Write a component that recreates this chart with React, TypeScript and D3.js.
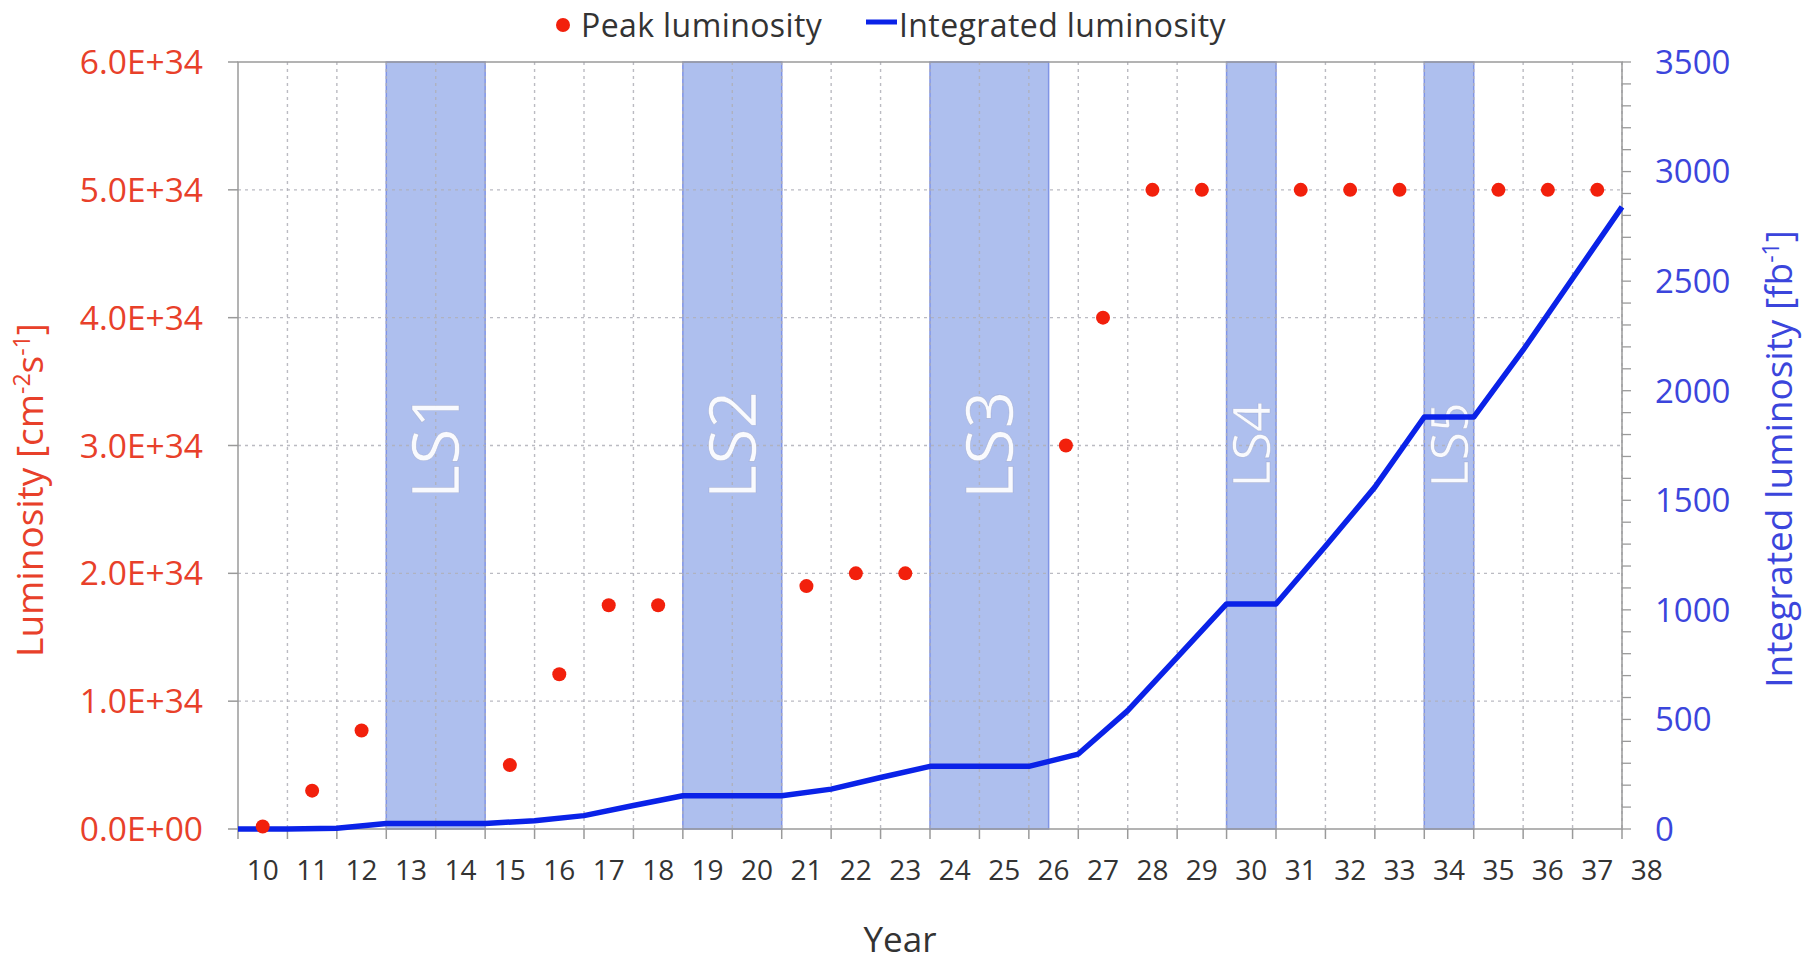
import React from "react";
import * as d3 from "d3";

// ---------- data ----------
const yearLabels = ["10","11","12","13","14","15","16","17","18","19","20","21","22","23","24","25","26","27","28","29","30","31","32","33","34","35","36","37","38"];
const yearLabelPos = [10,11,12,13,14,15,16,17,18,19,20,21,22,23,24,25,26,27,28,29,30,31,32,33,34,35,36,37,38];

const peakYears = [10, 11, 12, 15, 16, 17, 18, 21, 22, 23, 26.25, 27, 28, 29, 31, 32, 33, 35, 36, 37];
const peakValues = [0.02e34, 0.30e34, 0.77e34, 0.5e34, 1.21e34, 1.75e34, 1.75e34, 1.9e34, 2.0e34, 2.0e34, 3.0e34, 4.0e34, 5.0e34, 5.0e34, 5.0e34, 5.0e34, 5.0e34, 5.0e34, 5.0e34, 5.0e34];

const intYearEnds = [9.5,10.5,11.5,12.5,13.5,14.5,15.5,16.5,17.5,18.5,19.5,20.5,21.5,22.5,23.5,24.5,25.5,26.5,27.5,28.5,29.5,30.5,31.5,32.5,33.5,34.5,35.5,36.5,37.5];
const intValues = [0,0,3,25,25,25,38,61,107,152,152,152,182,235,286,286,286,342,540,783,1027,1027,1290,1560,1880,1880,2186,2512,2839];

const lsNames = ["LS1", "LS2", "LS3", "LS4", "LS5"];
const lsStart = [12.5, 18.5, 23.5, 29.5, 33.5];
const lsEnd = [14.5, 20.5, 25.9, 30.5, 34.5];
const lsFont = [66, 66, 66, 52, 52];

const leftTicks = [0, 1e34, 2e34, 3e34, 4e34, 5e34, 6e34];
const leftTickLabels = ["0.0E+00", "1.0E+34", "2.0E+34", "3.0E+34", "4.0E+34", "5.0E+34", "6.0E+34"];
const rightTicks = [0, 500, 1000, 1500, 2000, 2500, 3000, 3500];
const rightTickLabels = ["0", "500", "1000", "1500", "2000", "2500", "3000", "3500"];
const gridBoundaries = [10.5,11.5,12.5,13.5,14.5,15.5,16.5,17.5,18.5,19.5,20.5,21.5,22.5,23.5,24.5,25.5,26.5,27.5,28.5,29.5,30.5,31.5,32.5,33.5,34.5,35.5,36.5,37.5];

// ---------- layout ----------
const W = 1816, H = 966;
const L = 238, R = 1622, T = 62, B = 829;
const FONT = "'Open Sans', 'DejaVu Sans', sans-serif";
const RED = "#e8402a";
const DOT = "#f2200c";
const BLUE = "#0a22e8";
const BLUE_TXT = "#3b45dc";
const DARK = "#333333";

export default function App() {
  const x = d3.scaleLinear().domain([9.5, 37.5]).range([L, R]);
  const yL = d3.scaleLinear().domain([0, 6e34]).range([B, T]);
  const yR = d3.scaleLinear().domain([0, 3500]).range([B, T]);
  const minor = d3.range(0, 3501, 100);
  const line = d3.line<number>().x((_, i) => x(intYearEnds[i])).y((d) => yR(d));

  return (
    <svg width={W} height={H} style={{ position: "absolute", left: 0, top: 0, background: "#fff" }} fontFamily={FONT}>
      <rect x={0} y={0} width={W} height={H} fill="#fff" />
      {/* shutdown bands */}
      {lsNames.map((n, i) => (
        <rect key={n} x={x(lsStart[i])} y={T} width={x(lsEnd[i]) - x(lsStart[i])} height={B - T}
          fill="#aebfee" stroke="#8094e6" strokeWidth={1.5} />
      ))}
      {/* vertical grid */}
      {gridBoundaries.map((g) => (
        <line key={"vg" + g} x1={x(g)} x2={x(g)} y1={T} y2={B} stroke="#b0b0b8" strokeWidth={1.4} strokeDasharray="3,4" opacity={0.85} />
      ))}
      {/* horizontal grid */}
      {leftTicks.slice(1, 6).map((t) => (
        <line key={"hg" + t} x1={L} x2={R} y1={yL(t)} y2={yL(t)} stroke="#b0b0b8" strokeWidth={1.4} strokeDasharray="3,4" opacity={0.85} />
      ))}
      {/* frame */}
      <rect x={L} y={T} width={R - L} height={B - T} fill="none" stroke="#9a9a9a" strokeWidth={1.5} />
      {/* x ticks */}
      {[9.5, ...gridBoundaries].map((g) => (
        <line key={"xt" + g} x1={x(g)} x2={x(g)} y1={B} y2={B + 10} stroke="#9a9a9a" strokeWidth={1.5} />
      ))}
      {/* left ticks */}
      {leftTicks.map((t) => (
        <line key={"lt" + t} x1={L - 10} x2={L} y1={yL(t)} y2={yL(t)} stroke="#9a9a9a" strokeWidth={1.5} />
      ))}
      {/* right ticks */}
      {minor.map((t) => (
        <line key={"rt" + t} x1={R} x2={R + 9} y1={yR(t)} y2={yR(t)} stroke="#9a9a9a" strokeWidth={1.3} />
      ))}
      {/* LS labels */}
      {lsNames.map((n, i) => {
        const cx = (x(lsStart[i]) + x(lsEnd[i])) / 2;
        const cy = 445;
        return (
          <text key={"ls" + n} transform={`translate(${cx},${cy}) rotate(-90)`} textAnchor="middle" dy="0.36em"
            fontSize={lsFont[i]} fill="#ffffff" fillOpacity={0.92} stroke="#9aa4c8" strokeWidth={0.6} strokeOpacity={0.6}>{n}</text>
        );
      })}
      {/* integrated line */}
      <path d={line(intValues) || ""} fill="none" stroke={BLUE} strokeWidth={5.5} strokeLinejoin="round" />
      {/* peak points */}
      {peakValues.map((v, i) => (
        <circle key={"p" + i} cx={x(peakYears[i])} cy={yL(v)} r={7} fill={DOT} />
      ))}
      {/* left tick labels */}
      {leftTicks.map((t, i) => (
        <text key={"ll" + t} x={203} y={yL(t)} dy="0.36em" textAnchor="end" fontSize={33.5} fill={RED}>{leftTickLabels[i]}</text>
      ))}
      {/* right tick labels */}
      {rightTicks.map((t, i) => (
        <text key={"rl" + t} x={1655} y={yR(t)} dy="0.36em" textAnchor="start" fontSize={33} fill={BLUE_TXT}>{rightTickLabels[i]}</text>
      ))}
      {/* x tick labels */}
      {yearLabels.map((lab, i) => (
        <text key={"xl" + lab} x={x(yearLabelPos[i])} y={870} dy="0.36em" textAnchor="middle" fontSize={28} fill={DARK}>{lab}</text>
      ))}
      {/* axis titles */}
      <text x={900} y={939} dy="0.36em" textAnchor="middle" fontSize={35} fill={DARK}>Year</text>
      <text transform="translate(30,490) rotate(-90)" textAnchor="middle" dy="0.36em" fontSize={37} fill={RED}>
        Luminosity [cm<tspan fontSize={23} dy="-13">-2</tspan><tspan dy="13">s</tspan><tspan fontSize={23} dy="-13">-1</tspan><tspan dy="13">]</tspan>
      </text>
      <text transform="translate(1779,459) rotate(-90)" textAnchor="middle" dy="0.36em" fontSize={37} fill={BLUE_TXT}>
        Integrated luminosity [fb<tspan fontSize={23} dy="-13">-1</tspan><tspan dy="13">]</tspan>
      </text>
      {/* legend */}
      <circle cx={563} cy={25} r={7} fill={DOT} />
      <text x={581} y={25} dy="0.36em" fontSize={32} fill={DARK} letterSpacing={0.4}>Peak luminosity</text>
      <line x1={866} x2={897} y1={22} y2={22} stroke={BLUE} strokeWidth={5} />
      <text x={899} y={25} dy="0.36em" fontSize={32} fill={DARK} letterSpacing={0.4}>Integrated luminosity</text>
    </svg>
  );
}
